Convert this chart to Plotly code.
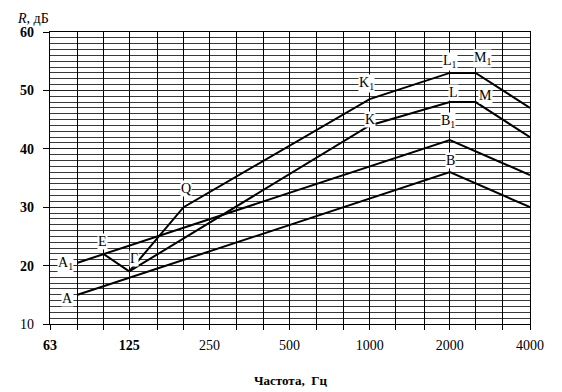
import numpy as np
import plotly.graph_objects as go

# third-octave band grid (Hz) and octave tick labels
band_freqs = [63, 80, 100, 125, 160, 200, 250, 315, 400, 500, 630, 800,
              1000, 1250, 1600, 2000, 2500, 3150, 4000]
octave_labels = {63: "<b>63</b>", 125: "<b>125</b>", 250: "250", 500: "500",
                 1000: "1000", 2000: "2000", 4000: "4000"}

# curve A-B-C
freq_ABC = [80, 2000, 4000]
R_ABC = [15, 36, 30]
# curve A1-B1-C1
freq_A1B1C1 = [80, 2000, 4000]
R_A1B1C1 = [20.5, 41.5, 35.5]
# curve E-Г-Q-K1-L1-M1-N1
freq_EGQ = [100, 125, 200, 1000, 2000, 2500, 4000]
R_EGQ = [22, 19, 30, 48.5, 53, 53, 47]
# curve Г-K-L-M-N
freq_GK = [125, 1000, 2000, 2500, 4000]
R_GK = [19, 44, 48, 48, 42]

# point labels: text, frequency, level
label_text = ["A<sub>1</sub>", "A", "E", "Г", "Q", "K<sub>1</sub>", "K",
              "L<sub>1</sub>", "M<sub>1</sub>", "L", "M", "B<sub>1</sub>", "B",
              "N<sub>1</sub>", "N", "C<sub>1</sub>", "C"]
label_freq = [72.3, 73.1, 98.9, 130, 204, 976, 1003, 2000, 2647, 2066, 2722,
              1961, 2017, 4461, 4403, 4498, 4436]
label_R = [20.4, 14.3, 24.1, 21.2, 33.2, 51.2, 45.0, 55.0, 55.4, 49.7, 49.2,
           44.6, 38.0, 46.6, 41.0, 34.6, 29.1]

FONT = "Liberation Serif, Times New Roman, serif"
fig = go.Figure()
for fx, ry in [(freq_ABC, R_ABC), (freq_A1B1C1, R_A1B1C1),
               (freq_EGQ, R_EGQ), (freq_GK, R_GK)]:
    fig.add_trace(go.Scatter(x=fx, y=ry, mode="lines",
                             line=dict(color="black", width=2),
                             showlegend=False, hoverinfo="skip"))

annotations = []
for t, f, r in zip(label_text, label_freq, label_R):
    annotations.append(dict(x=np.log10(f), y=r, xref="x", yref="y", text=t,
                            showarrow=False, bgcolor="white", borderpad=0,
                            xanchor="center", yanchor="middle",
                            font=dict(family=FONT, size=14, color="black")))

# page offset of the default HTML body margin
OFF = 8
W, H = 562 - OFF, 392 - OFF
ml, mr, mt, mb = 46 - OFF, 32, 32 - OFF, 68
pw, ph = W - ml - mr, H - mt - mb

def page_to_paper(px, py):
    return (px - OFF - ml) / pw, 1 - (py - OFF - mt) / ph

ax, ay = page_to_paper(29, 9)
annotations.append(dict(x=ax, y=ay, xref="paper", yref="paper", text="<i>R</i>, дБ",
                        showarrow=False, xanchor="center", yanchor="top",
                        font=dict(family=FONT, size=14, color="black")))
ax, ay = page_to_paper(288, 380)
annotations.append(dict(x=ax, y=ay, xref="paper", yref="paper",
                        text="<b>Частота,  Гц</b>", showarrow=False,
                        xanchor="center", yanchor="middle",
                        font=dict(family=FONT, size=13, color="black")))

fig.update_layout(
    width=W, height=H,
    margin=dict(l=ml, r=mr, t=mt, b=mb),
    paper_bgcolor="white", plot_bgcolor="white",
    font=dict(family=FONT, color="black"),
    annotations=annotations,
    xaxis=dict(type="log", range=[np.log10(63), np.log10(4000)],
               tickvals=band_freqs,
               ticktext=[octave_labels.get(f, "") for f in band_freqs],
               showgrid=True, gridcolor="black", gridwidth=1.3,
               ticks="outside", ticklen=5, tickcolor="black", tickwidth=1.3,
               ticklabelstandoff=3,
               showline=True, linecolor="black", linewidth=1.3, mirror=True,
               tickfont=dict(family=FONT, size=14, color="black"),
               zeroline=False),
    yaxis=dict(range=[10, 60], tickvals=[10, 20, 30, 40, 50, 60],
               ticktext=["10", "<b>20</b>", "<b>30</b>", "<b>40</b>", "<b>50</b>", "<b>60</b>"],
               showgrid=True, gridcolor="#222222", gridwidth=1,
               minor=dict(dtick=1, showgrid=True, gridcolor="#3a3a3a", gridwidth=1),
               ticks="outside", ticklen=6, tickcolor="black", tickwidth=1.3,
               ticklabelstandoff=6,
               showline=True, linecolor="black", linewidth=1.3, mirror=True,
               tickfont=dict(family=FONT, size=14, color="black"),
               zeroline=False),
)

fig.write_html("out.html")
